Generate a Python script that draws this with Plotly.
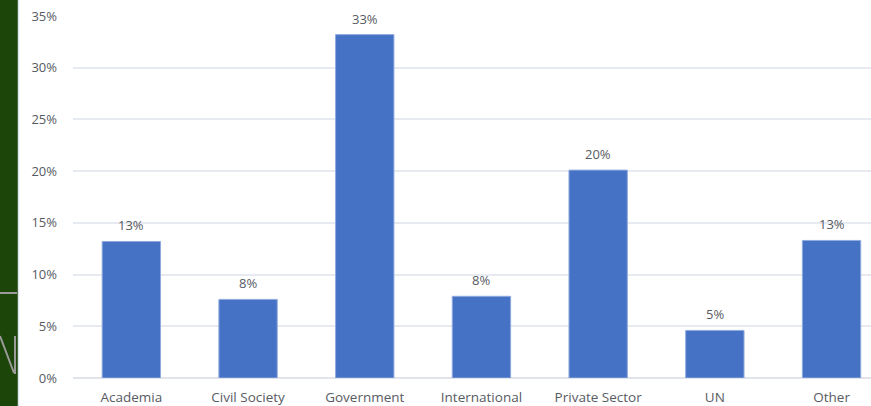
import plotly.graph_objects as go

categories = ["Academia", "Civil Society", "Government", "International",
              "Private Sector", "UN", "Other"]
shares = [0.132, 0.076, 0.332, 0.079, 0.201, 0.046, 0.133]
tick_vals = [0, 0.05, 0.10, 0.15, 0.20, 0.25, 0.30, 0.35]
tick_text = ["0%", "5%", "10%", "15%", "20%", "25%", "30%", "35%"]

W, H = 871, 406
L, R, T, B = 73, 0, 16, 28
pw = W - L - R
ph = H - T - B

def px_x(px):
    return (px - L) / pw

def px_y(py):
    return (H - B - py) / ph

text_col = "#575B63"
fam = "Open Sans, Lato, sans-serif"
font = dict(family=fam, size=13, color=text_col)

fig = go.Figure(go.Bar(
    x=categories,
    y=shares,
    cliponaxis=False,
    marker=dict(color="#4672C6", line=dict(color="#8FAADC", width=1)),
    width=0.5,
    hoverinfo="skip",
))

annotations = [
    dict(x=c, y=v, xref="x", yref="y", text=f"{round(v * 100):.0f}%",
         showarrow=False, yanchor="bottom", yshift=5,
         font=dict(family=fam, size=13, color=text_col))
    for c, v in zip(categories, shares)
]

shapes = [
    # dark green background strip on the left
    dict(type="rect", xref="paper", yref="paper",
         x0=px_x(0), x1=px_x(18), y0=px_y(H), y1=px_y(0),
         fillcolor="#1C4609", line=dict(width=0), layer="below"),
    dict(type="line", xref="paper", yref="paper",
         x0=px_x(18.5), x1=px_x(18.5), y0=px_y(H), y1=px_y(0),
         line=dict(color="#DDE3EC", width=1.5), layer="below"),
    # gray horizontal rule in the strip
    dict(type="line", xref="paper", yref="paper",
         x0=px_x(0), x1=px_x(17), y0=px_y(293), y1=px_y(293),
         line=dict(color="#9A9A9A", width=2), layer="below"),
    # partial letter in the strip
    dict(type="path", xref="paper", yref="paper",
         path=(f"M {px_x(0)},{px_y(336)} L {px_x(14)},{px_y(373)} "
               f"M {px_x(15)},{px_y(374)} L {px_x(15)},{px_y(336)}"),
         line=dict(color="#9A9A9A", width=2), layer="below"),
]

fig.update_layout(
    width=W, height=H,
    margin=dict(l=L, r=R, t=T, b=B, pad=0),
    paper_bgcolor="white",
    plot_bgcolor="white",
    showlegend=False,
    font=font,
    shapes=shapes,
    annotations=annotations,
    xaxis=dict(range=[-0.5, -0.5 + pw / 116.7], showgrid=False, showline=False,
               ticks="", tickfont=dict(size=13.5, color=text_col),
               ticklabelstandoff=9, fixedrange=True),
    yaxis=dict(range=[0, 0.35], tickvals=tick_vals, ticktext=tick_text,
               showgrid=True, gridcolor="#E7EAF0", gridwidth=1.5,
               zeroline=True, zerolinecolor="#E1E4EB", zerolinewidth=1.5,
               showline=False, ticks="", tickfont=dict(size=13, color=text_col),
               ticklabelstandoff=15, fixedrange=True),
)

fig.write_html(
    "out.html",
    config={"displayModeBar": False},
    post_script="document.body.style.margin='0';document.body.style.overflow='hidden';",
)
